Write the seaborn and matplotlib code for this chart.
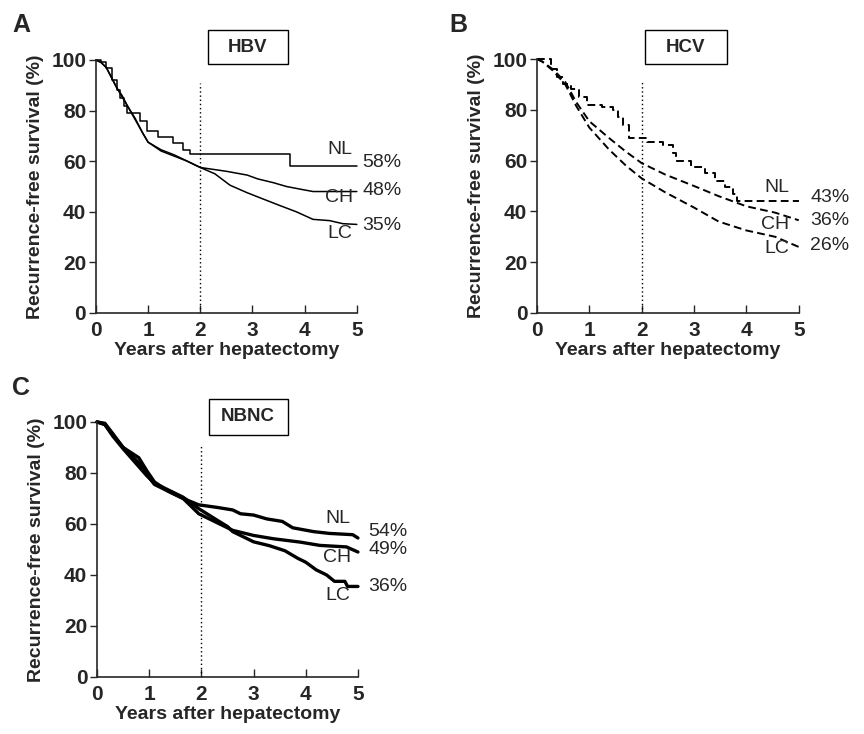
import matplotlib
matplotlib.use("Agg")
import matplotlib.pyplot as plt
import seaborn as sns
import pandas as pd
from matplotlib.patches import Rectangle

# ---- panel A : HBV (Kaplan-Meier) ----
hbv_nl_t = [0, 0.1, 0.2, 0.3, 0.4, 0.47, 0.53, 0.59, 0.84, 0.97, 1.19, 1.48, 1.67, 1.80, 3.71, 5.0]
hbv_nl_s = [100, 99, 97, 92, 88, 85, 82, 79, 76, 72, 69.5, 67, 64.5, 63, 58, 58]
hbv_ch_t = [0, 0.1, 0.2, 0.3, 0.4, 0.5, 0.6, 0.75, 0.9, 1.0, 1.25, 1.5, 1.75, 2.0, 2.5, 2.9, 3.1, 3.4, 3.65, 3.9, 4.16, 5.0]
hbv_ch_s = [100, 99, 97, 93, 89, 86, 82, 77, 71, 67.5, 64.5, 62.5, 60, 57.5, 56, 54.5, 53, 51.5, 50, 49, 48, 48]
hbv_lc_t = [0, 0.1, 0.2, 0.3, 0.4, 0.5, 0.6, 0.75, 0.9, 1.0, 1.25, 1.5, 1.75, 2.0, 2.28, 2.57, 2.89, 3.21, 3.52, 3.84, 4.16, 4.48, 4.73, 5.0]
hbv_lc_s = [100, 99, 97, 93, 89, 85.5, 82, 76.5, 71, 67.5, 64, 62, 60, 57.5, 55, 50.5, 47.6, 45, 42.5, 40, 37, 36.5, 35.3, 35]
hbv_pct = ["58%", "48%", "35%"]

# ---- panel B : HCV ----
hcv_nl_t = [0, 0.27, 0.38, 0.5, 0.65, 0.8, 0.95, 1.25, 1.45, 1.55, 1.65, 1.75, 2.1, 2.4, 2.6, 2.65, 2.95, 3.2, 3.4, 3.6, 3.75, 3.82, 5.0]
hcv_nl_s = [100, 96, 93, 90, 88, 85, 82, 81, 80, 77, 74, 69, 67.5, 66, 63, 60, 57.5, 55, 52, 49.5, 47, 44, 44]
hcv_ch_t = [0, 0.1, 0.3, 0.54, 0.75, 1.0, 1.37, 1.7, 2.0, 2.45, 3.0, 3.47, 4.0, 4.55, 5.0]
hcv_ch_s = [100, 99, 96, 91, 83, 75.5, 69, 63.5, 59, 54.5, 50, 46, 42, 39.5, 36.5]
hcv_lc_t = [0, 0.1, 0.3, 0.54, 0.75, 1.0, 1.37, 1.7, 2.0, 2.45, 3.0, 3.47, 4.0, 4.55, 5.0]
hcv_lc_s = [100, 99, 95.5, 90, 81.5, 73, 64.5, 58, 53, 47.5, 41.5, 36, 32.5, 30, 26]
hcv_pct = ["43%", "36%", "26%"]

# ---- panel C : NBNC ----
nbnc_nl_t = [0, 0.15, 0.3, 0.5, 0.65, 0.8, 0.95, 1.1, 1.35, 1.65, 1.95, 2.3, 2.6, 2.75, 3.0, 3.25, 3.55, 3.75, 4.15, 4.45, 4.9, 5.0]
nbnc_nl_s = [100, 99.5, 95.5, 90, 87, 84, 79.5, 75.5, 73, 70, 67.5, 66.5, 65.5, 64, 63.5, 62, 61, 58.5, 57, 56.3, 55.8, 54.5]
nbnc_ch_t = [0, 0.15, 0.3, 0.5, 0.65, 0.8, 0.95, 1.1, 1.35, 1.65, 1.95, 2.3, 2.6, 3.0, 3.38, 3.89, 4.27, 4.78, 5.0]
nbnc_ch_s = [100, 99, 95, 90, 88, 86, 81, 76.5, 73, 70, 64, 60.5, 57.5, 55.5, 54.2, 52.9, 51.6, 51, 49]
nbnc_lc_t = [0, 0.15, 0.3, 0.5, 0.65, 0.8, 0.95, 1.1, 1.35, 1.65, 1.95, 2.3, 2.5, 2.6, 2.8, 3.0, 3.3, 3.6, 3.85, 4.0, 4.2, 4.4, 4.55, 4.75, 4.8, 5.0]
nbnc_lc_s = [100, 99, 94.5, 89.5, 86, 82.5, 79, 76, 73.5, 70.5, 66, 61.5, 59, 57, 55, 53, 51.5, 49.5, 46.5, 45, 42, 40, 37.5, 37.5, 35.5, 35.5]
nbnc_pct = ["54%", "49%", "36%"]

groups = ["NL", "CH", "LC"]

sns.set_style("ticks")
plt.rcParams["font.family"] = ["Liberation Sans", "DejaVu Sans"]

fig = plt.figure(figsize=(8.64, 7.34), dpi=100)


def panel(ax, curves, pcts, title, ls, lw, steps, lab_x, lab_y, pct_x, pct_y, box):
    for g in groups:
        t, s = curves[g]
        df = pd.DataFrame({"t": t, "s": s})
        sns.lineplot(data=df, x="t", y="s", ax=ax, color="black", lw=lw,
                     linestyle=ls, estimator=None,
                     drawstyle="steps-post" if g in steps else "default",
                     clip_on=False)
    ax.axvline(2, ymin=0, ymax=0.91, color="black", ls=(0, (1, 2)), lw=1)
    ax.set_xlim(0, 5)
    ax.set_ylim(0, 100)
    ax.set_xticks([0, 1, 2, 3, 4, 5])
    ax.set_yticks([0, 20, 40, 60, 80, 100])
    sns.despine(ax=ax)
    ax.tick_params(axis="x", direction="in", length=6, width=1, labelsize=15, pad=6)
    ax.tick_params(axis="y", direction="out", length=5, width=1, labelsize=15, pad=2)
    for lab in ax.get_xticklabels() + ax.get_yticklabels():
        lab.set_fontweight("bold")
    ax.set_xlabel("Years after hepatectomy", fontsize=14, fontweight="bold", labelpad=1)
    ax.set_ylabel("Recurrence-free survival (%)", fontsize=14, fontweight="bold", labelpad=5)
    for sp in ax.spines.values():
        sp.set_linewidth(1.2)
    for g, ly, p, py in zip(groups, lab_y, pcts, pct_y):
        ax.text(lab_x, ly, g, ha="right", va="center", fontsize=14)
        ax.text(pct_x, py, p, ha="left", va="center", fontsize=14, clip_on=False)
    cx, cy, w, h = box
    ax.add_patch(Rectangle((cx - w / 2, cy - h / 2), w, h, transform=ax.transAxes,
                           fill=False, ec="black", lw=1, clip_on=False))
    ax.text(cx, cy, title, transform=ax.transAxes, ha="center", va="center",
            fontsize=13.5, fontweight="bold")


axA = fig.add_axes([0.111, 0.5736, 0.302, 0.3447])
panel(axA,
      {"NL": (hbv_nl_t, hbv_nl_s), "CH": (hbv_ch_t, hbv_ch_s), "LC": (hbv_lc_t, hbv_lc_s)},
      hbv_pct, "HBV", "-", 1.1, ["NL"],
      4.92, [64.5, 45.5, 31.5], 5.1, [59.5, 48.5, 34.5], (0.582, 1.05, 0.305, 0.135))

axB = fig.add_axes([0.6215, 0.5736, 0.303, 0.346])
panel(axB,
      {"NL": (hcv_nl_t, hcv_nl_s), "CH": (hcv_ch_t, hcv_ch_s), "LC": (hcv_lc_t, hcv_lc_s)},
      hcv_pct, "HCV", (0, (4, 2.2)), 1.4, ["NL"],
      4.82, [49.5, 35, 25.5], 5.22, [45.5, 36.5, 26.5], (0.569, 1.047, 0.313, 0.135))

axC = fig.add_axes([0.1123, 0.0777, 0.302, 0.3474])
panel(axC,
      {"NL": (nbnc_nl_t, nbnc_nl_s), "CH": (nbnc_ch_t, nbnc_ch_s), "LC": (nbnc_lc_t, nbnc_lc_s)},
      nbnc_pct, "NBNC", "-", 2.4, [],
      4.86, [62, 47, 32], 5.2, [57, 50, 35.5], (0.579, 1.02, 0.303, 0.141))

for letter, x, y in [("A", 12, 13), ("B", 449, 13), ("C", 12, 376)]:
    fig.text(x / 864, 1 - y / 734, letter, ha="left", va="top", fontsize=18, fontweight="bold")

fig.savefig("out.png", dpi=100)
